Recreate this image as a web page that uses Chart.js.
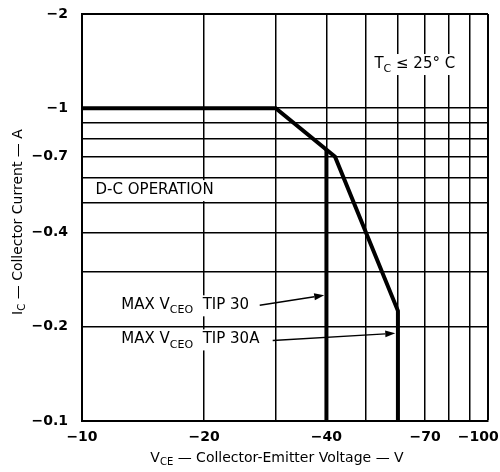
<!DOCTYPE html>
<html lang="en">
<head>
<meta charset="UTF-8">
<title>D-C Safe Operating Area</title>
<script src="https://cdn.jsdelivr.net/npm/chart.js"></script>
<style>
  html, body { margin: 0; padding: 0; background: #fff; }
</style>
</head>
<body>
<canvas id="soa" width="500" height="472"></canvas>
<script>
// magnitudes only, the axes are labelled negative (PNP device)
const vceGrid = [10, 20, 30, 40, 50, 60, 70, 80, 90, 100];
const vceLabels = [10, 20, 40, 70, 100];
const icGrid = [0.1, 0.2, 0.3, 0.4, 0.5, 0.6, 0.7, 0.8, 0.9, 1, 2];
const icLabels = [0.1, 0.2, 0.4, 0.7, 1, 2];

// d-c operation boundary (TIP30A limit at -60 V)
const dcVce = [10, 30, 42, 60, 60];
const dcIc = [1, 1, 0.7, 0.225, 0.1];
// TIP30 limit at -40 V
const tip30Vce = [40, 40];
const tip30Ic = [0.74, 0.1];

const FONT = "'DejaVu Sans', sans-serif";

// text notes and arrows, placed in data units
const notes = [
  { parts: [['D-C OPERATION']], x: 10.8, y: 0.547 },
  { parts: [['T'], ['C', 'sub'], [' \u2264 25\u00b0 C']], x: 52.5, y: 1.384 },
  { parts: [['MAX V'], ['CEO', 'sub'], ['  TIP 30']], x: 12.5, y: 0.2343 },
  { parts: [['MAX V'], ['CEO', 'sub'], ['  TIP 30A']], x: 12.5, y: 0.1823 }
];
const arrows = [
  { from: [27.4, 0.2343], to: [39.5, 0.2524] },
  { from: [29.5, 0.181], to: [59.1, 0.1907] }
];

function toPoints(xs, ys) {
  return xs.map((v, i) => ({ x: v, y: ys[i] }));
}

function partsWidth(ctx, parts, size, subSize) {
  let w = 0;
  parts.forEach(([t, kind]) => {
    ctx.font = (kind === 'sub' ? subSize : size) + 'px ' + FONT;
    w += ctx.measureText(t).width;
  });
  return w;
}

function drawParts(ctx, parts, x, y, size, subSize) {
  let cx = x;
  parts.forEach(([t, kind]) => {
    ctx.font = (kind === 'sub' ? subSize : size) + 'px ' + FONT;
    ctx.fillText(t, cx, kind === 'sub' ? y + size * 0.35 : y);
    cx += ctx.measureText(t).width;
  });
}

const notesPlugin = {
  id: 'notes',
  afterDatasetsDraw(chart) {
    const ctx = chart.ctx;
    const xs = chart.scales.x, ys = chart.scales.y;
    ctx.save();
    ctx.textBaseline = 'middle';
    ctx.textAlign = 'left';

    notes.forEach(n => {
      const px = xs.getPixelForValue(n.x), py = ys.getPixelForValue(n.y);
      const w = partsWidth(ctx, n.parts, 15, 11);
      ctx.fillStyle = '#fff';
      ctx.fillRect(px - 4, py - 10, w + 8, 21);
      ctx.fillStyle = '#000';
      drawParts(ctx, n.parts, px, py, 15, 11);
    });

    ctx.strokeStyle = '#000';
    ctx.fillStyle = '#000';
    ctx.lineWidth = 1.5;
    arrows.forEach(a => {
      const x1 = xs.getPixelForValue(a.from[0]), y1 = ys.getPixelForValue(a.from[1]);
      const x2 = xs.getPixelForValue(a.to[0]), y2 = ys.getPixelForValue(a.to[1]);
      const ang = Math.atan2(y2 - y1, x2 - x1);
      const len = 10, half = 3.5;
      const bx = x2 - len * Math.cos(ang), by = y2 - len * Math.sin(ang);
      ctx.beginPath();
      ctx.moveTo(x1, y1);
      ctx.lineTo(bx, by);
      ctx.stroke();
      ctx.beginPath();
      ctx.moveTo(x2, y2);
      ctx.lineTo(bx + half * Math.sin(ang), by - half * Math.cos(ang));
      ctx.lineTo(bx - half * Math.sin(ang), by + half * Math.cos(ang));
      ctx.closePath();
      ctx.fill();
    });

    // axis titles
    const yTitle = [['I'], ['C', 'sub'], [' \u2014 Collector Current \u2014 A']];
    const xTitle = [['V'], ['CE', 'sub'], [' \u2014 Collector-Emitter Voltage \u2014 V']];
    let w = partsWidth(ctx, xTitle, 14, 10);
    drawParts(ctx, xTitle, 277 - w / 2, 458, 14, 10);
    ctx.translate(18, 222);
    ctx.rotate(-Math.PI / 2);
    w = partsWidth(ctx, yTitle, 14, 10);
    drawParts(ctx, yTitle, -w / 2, 0, 14, 10);
    ctx.restore();
  }
};

const edgeWidth = (edge) => (c) => (c.tick && c.tick.value === edge ? 2 : 1.5);

new Chart(document.getElementById('soa'), {
  type: 'scatter',
  data: {
    datasets: [
      { data: toPoints(dcVce, dcIc), showLine: true, borderColor: '#000', borderWidth: 4, pointRadius: 0 },
      { data: toPoints(tip30Vce, tip30Ic), showLine: true, borderColor: '#000', borderWidth: 4, pointRadius: 0 }
    ]
  },
  options: {
    responsive: false,
    animation: false,
    layout: { padding: { top: 14, right: 12, left: 0, bottom: 0 } },
    plugins: { legend: { display: false }, tooltip: { enabled: false } },
    scales: {
      x: {
        type: 'logarithmic',
        min: 10,
        max: 100,
        afterBuildTicks: s => { s.ticks = vceGrid.map(v => ({ value: v })); },
        afterFit: s => { s.height = 51; s.paddingLeft = 0; s.paddingRight = 0; },
        ticks: {
          autoSkip: false,
          maxRotation: 0,
          padding: 8,
          color: '#000',
          font: { family: FONT, size: 14, weight: 'bold' },
          // the last label sits a little inside the right edge
          callback: v => vceLabels.includes(v) ? (v === 100 ? '\u2212100\u2007\u2007' : '\u2212' + v) : ''
        },
        grid: { color: '#000', lineWidth: edgeWidth(100), drawTicks: false },
        border: { color: '#000', width: 2 }
      },
      y: {
        type: 'logarithmic',
        min: 0.1,
        max: 2,
        afterBuildTicks: s => { s.ticks = icGrid.map(v => ({ value: v })); },
        afterFit: s => { s.width = 82; s.paddingTop = 0; s.paddingBottom = 0; },
        ticks: {
          autoSkip: false,
          padding: 14,
          color: '#000',
          font: { family: FONT, size: 14, weight: 'bold' },
          callback: v => icLabels.includes(v) ? '\u2212' + v : ''
        },
        grid: { color: '#000', lineWidth: edgeWidth(2), drawTicks: false },
        border: { color: '#000', width: 2 }
      }
    }
  },
  plugins: [notesPlugin]
});
</script>
</body>
</html>
